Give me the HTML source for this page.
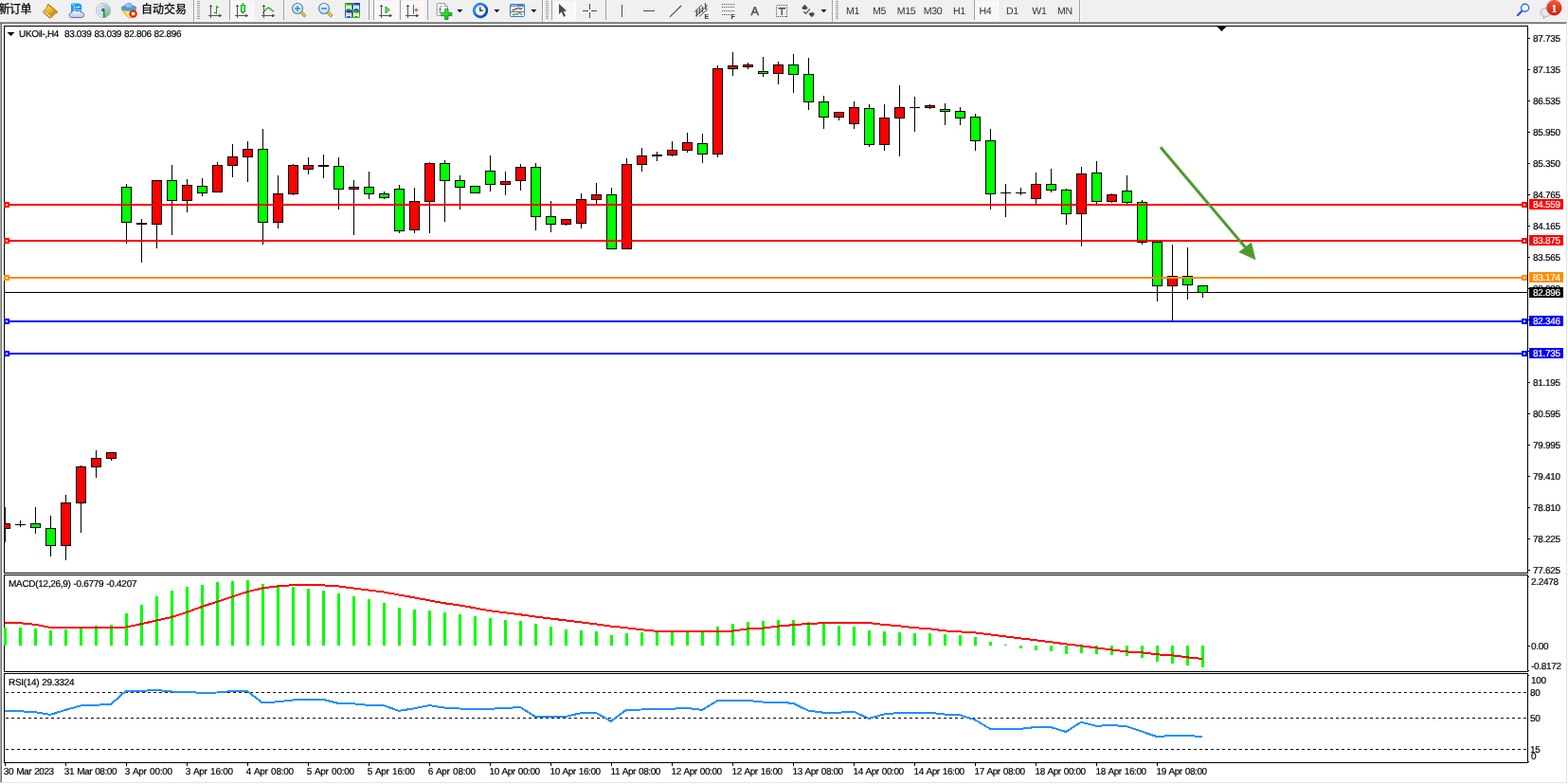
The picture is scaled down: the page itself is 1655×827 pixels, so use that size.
<!DOCTYPE html>
<html lang="zh"><head><meta charset="utf-8"><title>UKOil-,H4</title>
<style>html,body{margin:0;padding:0;background:#fff;overflow:hidden}svg{display:block}text{font-family:"Liberation Sans","Noto Sans CJK SC",sans-serif;}.ax{font-size:10px;letter-spacing:-0.3px;word-spacing:0.5px;fill:#000;stroke:#000;stroke-width:0.2px;white-space:pre;text-rendering:geometricPrecision}.tf{font-size:10.6px;letter-spacing:-0.3px;fill:#333;text-rendering:geometricPrecision}.cn{font-size:12px;fill:#000;stroke:#000;stroke-width:0.25px}</style></head><body>
<svg width="1655" height="827" viewBox="0 0 1655 827">
<rect x="0" y="0" width="1655" height="827" fill="#fff"/>
<g shape-rendering="crispEdges">
<rect x="0" y="23" width="1" height="803" fill="#a8a8a8"/>
<rect x="1" y="23" width="1" height="802" fill="#707070"/>
<rect x="1653" y="24" width="1" height="802" fill="#e3e3e3"/>
<rect x="2" y="825" width="1652" height="1" fill="#e3e3e3"/>
<rect x="4" y="27" width="1609" height="1" fill="#000"/>
<rect x="4" y="27" width="1" height="778" fill="#000"/>
<rect x="1612" y="27" width="1" height="778" fill="#000"/>
<rect x="4" y="804" width="1609" height="1" fill="#000"/>
<rect x="4" y="604" width="1609" height="1" fill="#000"/>
<rect x="4" y="605" width="1609" height="1" fill="#fff"/>
<rect x="4" y="606" width="1609" height="1" fill="#000"/>
<rect x="4" y="708" width="1609" height="1" fill="#000"/>
<rect x="4" y="709" width="1609" height="1" fill="#fff"/>
<rect x="4" y="710" width="1609" height="1" fill="#000"/>
<g clip-path="url(#cpm)">
<rect x="5" y="535" width="1" height="37" fill="#000"/>
<rect x="0" y="552" width="11" height="6" fill="#000"/>
<rect x="1" y="553" width="9" height="4" fill="#ff0000"/>
<rect x="21" y="549" width="1" height="7" fill="#000"/>
<rect x="16" y="553" width="11" height="1" fill="#000"/>
<rect x="37" y="535" width="1" height="28" fill="#000"/>
<rect x="32" y="552" width="11" height="5" fill="#000"/>
<rect x="33" y="553" width="9" height="3" fill="#00ff00"/>
<rect x="53" y="544" width="1" height="43" fill="#000"/>
<rect x="48" y="557" width="11" height="19" fill="#000"/>
<rect x="49" y="558" width="9" height="17" fill="#00ff00"/>
<rect x="69" y="522" width="1" height="69" fill="#000"/>
<rect x="64" y="530" width="11" height="46" fill="#000"/>
<rect x="65" y="531" width="9" height="44" fill="#ff0000"/>
<rect x="85" y="491" width="1" height="71" fill="#000"/>
<rect x="80" y="492" width="11" height="39" fill="#000"/>
<rect x="81" y="493" width="9" height="37" fill="#ff0000"/>
<rect x="101" y="475" width="1" height="29" fill="#000"/>
<rect x="96" y="483" width="11" height="10" fill="#000"/>
<rect x="97" y="484" width="9" height="8" fill="#ff0000"/>
<rect x="117" y="477" width="1" height="9" fill="#000"/>
<rect x="112" y="477" width="11" height="7" fill="#000"/>
<rect x="113" y="478" width="9" height="5" fill="#ff0000"/>
<rect x="133" y="194" width="1" height="63" fill="#000"/>
<rect x="128" y="197" width="11" height="38" fill="#000"/>
<rect x="129" y="198" width="9" height="36" fill="#00ff00"/>
<rect x="149" y="231" width="1" height="46" fill="#000"/>
<rect x="144" y="235" width="11" height="2" fill="#000"/>
<rect x="165" y="190" width="1" height="72" fill="#000"/>
<rect x="160" y="190" width="11" height="47" fill="#000"/>
<rect x="161" y="191" width="9" height="45" fill="#ff0000"/>
<rect x="181" y="174" width="1" height="74" fill="#000"/>
<rect x="176" y="190" width="11" height="22" fill="#000"/>
<rect x="177" y="191" width="9" height="20" fill="#00ff00"/>
<rect x="197" y="189" width="1" height="35" fill="#000"/>
<rect x="192" y="195" width="11" height="17" fill="#000"/>
<rect x="193" y="196" width="9" height="15" fill="#ff0000"/>
<rect x="213" y="188" width="1" height="19" fill="#000"/>
<rect x="208" y="196" width="11" height="8" fill="#000"/>
<rect x="209" y="197" width="9" height="6" fill="#00ff00"/>
<rect x="229" y="171" width="1" height="32" fill="#000"/>
<rect x="224" y="174" width="11" height="29" fill="#000"/>
<rect x="225" y="175" width="9" height="27" fill="#ff0000"/>
<rect x="245" y="152" width="1" height="35" fill="#000"/>
<rect x="240" y="165" width="11" height="10" fill="#000"/>
<rect x="241" y="166" width="9" height="8" fill="#ff0000"/>
<rect x="261" y="149" width="1" height="43" fill="#000"/>
<rect x="256" y="157" width="11" height="9" fill="#000"/>
<rect x="257" y="158" width="9" height="7" fill="#ff0000"/>
<rect x="277" y="136" width="1" height="122" fill="#000"/>
<rect x="272" y="157" width="11" height="78" fill="#000"/>
<rect x="273" y="158" width="9" height="76" fill="#00ff00"/>
<rect x="293" y="185" width="1" height="56" fill="#000"/>
<rect x="288" y="204" width="11" height="31" fill="#000"/>
<rect x="289" y="205" width="9" height="29" fill="#ff0000"/>
<rect x="309" y="173" width="1" height="33" fill="#000"/>
<rect x="304" y="174" width="11" height="31" fill="#000"/>
<rect x="305" y="175" width="9" height="29" fill="#ff0000"/>
<rect x="325" y="166" width="1" height="18" fill="#000"/>
<rect x="320" y="174" width="11" height="5" fill="#000"/>
<rect x="321" y="175" width="9" height="3" fill="#ff0000"/>
<rect x="341" y="163" width="1" height="25" fill="#000"/>
<rect x="336" y="174" width="11" height="2" fill="#000"/>
<rect x="357" y="166" width="1" height="55" fill="#000"/>
<rect x="352" y="175" width="11" height="25" fill="#000"/>
<rect x="353" y="176" width="9" height="23" fill="#00ff00"/>
<rect x="373" y="190" width="1" height="58" fill="#000"/>
<rect x="368" y="197" width="11" height="3" fill="#000"/>
<rect x="369" y="198" width="9" height="1" fill="#ff0000"/>
<rect x="389" y="181" width="1" height="29" fill="#000"/>
<rect x="384" y="197" width="11" height="8" fill="#000"/>
<rect x="385" y="198" width="9" height="6" fill="#00ff00"/>
<rect x="405" y="202" width="1" height="8" fill="#000"/>
<rect x="400" y="204" width="11" height="5" fill="#000"/>
<rect x="401" y="205" width="9" height="3" fill="#00ff00"/>
<rect x="421" y="195" width="1" height="51" fill="#000"/>
<rect x="416" y="199" width="11" height="45" fill="#000"/>
<rect x="417" y="200" width="9" height="43" fill="#00ff00"/>
<rect x="437" y="198" width="1" height="48" fill="#000"/>
<rect x="432" y="212" width="11" height="31" fill="#000"/>
<rect x="433" y="213" width="9" height="29" fill="#ff0000"/>
<rect x="453" y="171" width="1" height="75" fill="#000"/>
<rect x="448" y="172" width="11" height="41" fill="#000"/>
<rect x="449" y="173" width="9" height="39" fill="#ff0000"/>
<rect x="469" y="169" width="1" height="65" fill="#000"/>
<rect x="464" y="172" width="11" height="19" fill="#000"/>
<rect x="465" y="173" width="9" height="17" fill="#00ff00"/>
<rect x="485" y="185" width="1" height="36" fill="#000"/>
<rect x="480" y="190" width="11" height="8" fill="#000"/>
<rect x="481" y="191" width="9" height="6" fill="#00ff00"/>
<rect x="501" y="196" width="1" height="8" fill="#000"/>
<rect x="496" y="196" width="11" height="8" fill="#000"/>
<rect x="497" y="197" width="9" height="6" fill="#00ff00"/>
<rect x="517" y="164" width="1" height="38" fill="#000"/>
<rect x="512" y="180" width="11" height="15" fill="#000"/>
<rect x="513" y="181" width="9" height="13" fill="#00ff00"/>
<rect x="533" y="181" width="1" height="25" fill="#000"/>
<rect x="528" y="191" width="11" height="4" fill="#000"/>
<rect x="529" y="192" width="9" height="2" fill="#ff0000"/>
<rect x="549" y="173" width="1" height="28" fill="#000"/>
<rect x="544" y="176" width="11" height="15" fill="#000"/>
<rect x="545" y="177" width="9" height="13" fill="#ff0000"/>
<rect x="565" y="172" width="1" height="71" fill="#000"/>
<rect x="560" y="176" width="11" height="53" fill="#000"/>
<rect x="561" y="177" width="9" height="51" fill="#00ff00"/>
<rect x="581" y="212" width="1" height="33" fill="#000"/>
<rect x="576" y="228" width="11" height="9" fill="#000"/>
<rect x="577" y="229" width="9" height="7" fill="#00ff00"/>
<rect x="597" y="231" width="1" height="7" fill="#000"/>
<rect x="592" y="231" width="11" height="6" fill="#000"/>
<rect x="593" y="232" width="9" height="4" fill="#ff0000"/>
<rect x="613" y="204" width="1" height="37" fill="#000"/>
<rect x="608" y="210" width="11" height="26" fill="#000"/>
<rect x="609" y="211" width="9" height="24" fill="#ff0000"/>
<rect x="629" y="193" width="1" height="22" fill="#000"/>
<rect x="624" y="205" width="11" height="6" fill="#000"/>
<rect x="625" y="206" width="9" height="4" fill="#ff0000"/>
<rect x="645" y="198" width="1" height="65" fill="#000"/>
<rect x="640" y="205" width="11" height="58" fill="#000"/>
<rect x="641" y="206" width="9" height="56" fill="#00ff00"/>
<rect x="661" y="167" width="1" height="96" fill="#000"/>
<rect x="656" y="173" width="11" height="90" fill="#000"/>
<rect x="657" y="174" width="9" height="88" fill="#ff0000"/>
<rect x="677" y="156" width="1" height="25" fill="#000"/>
<rect x="672" y="164" width="11" height="10" fill="#000"/>
<rect x="673" y="165" width="9" height="8" fill="#ff0000"/>
<rect x="693" y="160" width="1" height="10" fill="#000"/>
<rect x="688" y="163" width="11" height="2" fill="#000"/>
<rect x="709" y="149" width="1" height="16" fill="#000"/>
<rect x="704" y="158" width="11" height="6" fill="#000"/>
<rect x="705" y="159" width="9" height="4" fill="#ff0000"/>
<rect x="725" y="140" width="1" height="21" fill="#000"/>
<rect x="720" y="150" width="11" height="9" fill="#000"/>
<rect x="721" y="151" width="9" height="7" fill="#ff0000"/>
<rect x="741" y="141" width="1" height="31" fill="#000"/>
<rect x="736" y="151" width="11" height="12" fill="#000"/>
<rect x="737" y="152" width="9" height="10" fill="#00ff00"/>
<rect x="757" y="69" width="1" height="97" fill="#000"/>
<rect x="752" y="72" width="11" height="91" fill="#000"/>
<rect x="753" y="73" width="9" height="89" fill="#ff0000"/>
<rect x="773" y="55" width="1" height="25" fill="#000"/>
<rect x="768" y="69" width="11" height="4" fill="#000"/>
<rect x="769" y="70" width="9" height="2" fill="#ff0000"/>
<rect x="789" y="66" width="1" height="7" fill="#000"/>
<rect x="784" y="68" width="11" height="3" fill="#000"/>
<rect x="785" y="69" width="9" height="1" fill="#ff0000"/>
<rect x="805" y="60" width="1" height="21" fill="#000"/>
<rect x="800" y="75" width="11" height="3" fill="#000"/>
<rect x="801" y="76" width="9" height="1" fill="#00ff00"/>
<rect x="821" y="65" width="1" height="24" fill="#000"/>
<rect x="816" y="68" width="11" height="10" fill="#000"/>
<rect x="817" y="69" width="9" height="8" fill="#ff0000"/>
<rect x="837" y="57" width="1" height="41" fill="#000"/>
<rect x="832" y="68" width="11" height="11" fill="#000"/>
<rect x="833" y="69" width="9" height="9" fill="#00ff00"/>
<rect x="853" y="61" width="1" height="55" fill="#000"/>
<rect x="848" y="78" width="11" height="30" fill="#000"/>
<rect x="849" y="79" width="9" height="28" fill="#00ff00"/>
<rect x="869" y="101" width="1" height="35" fill="#000"/>
<rect x="864" y="107" width="11" height="17" fill="#000"/>
<rect x="865" y="108" width="9" height="15" fill="#00ff00"/>
<rect x="885" y="118" width="1" height="9" fill="#000"/>
<rect x="880" y="118" width="11" height="6" fill="#000"/>
<rect x="881" y="119" width="9" height="4" fill="#ff0000"/>
<rect x="901" y="107" width="1" height="29" fill="#000"/>
<rect x="896" y="113" width="11" height="18" fill="#000"/>
<rect x="897" y="114" width="9" height="16" fill="#ff0000"/>
<rect x="917" y="110" width="1" height="45" fill="#000"/>
<rect x="912" y="114" width="11" height="39" fill="#000"/>
<rect x="913" y="115" width="9" height="37" fill="#00ff00"/>
<rect x="933" y="110" width="1" height="49" fill="#000"/>
<rect x="928" y="124" width="11" height="29" fill="#000"/>
<rect x="929" y="125" width="9" height="27" fill="#ff0000"/>
<rect x="949" y="90" width="1" height="75" fill="#000"/>
<rect x="944" y="113" width="11" height="12" fill="#000"/>
<rect x="945" y="114" width="9" height="10" fill="#ff0000"/>
<rect x="965" y="102" width="1" height="37" fill="#000"/>
<rect x="960" y="113" width="11" height="1" fill="#000"/>
<rect x="981" y="110" width="1" height="5" fill="#000"/>
<rect x="976" y="111" width="11" height="3" fill="#000"/>
<rect x="977" y="112" width="9" height="1" fill="#ff0000"/>
<rect x="997" y="109" width="1" height="23" fill="#000"/>
<rect x="992" y="115" width="11" height="3" fill="#000"/>
<rect x="993" y="116" width="9" height="1" fill="#00ff00"/>
<rect x="1013" y="113" width="1" height="19" fill="#000"/>
<rect x="1008" y="117" width="11" height="8" fill="#000"/>
<rect x="1009" y="118" width="9" height="6" fill="#00ff00"/>
<rect x="1029" y="120" width="1" height="39" fill="#000"/>
<rect x="1024" y="123" width="11" height="26" fill="#000"/>
<rect x="1025" y="124" width="9" height="24" fill="#00ff00"/>
<rect x="1045" y="136" width="1" height="85" fill="#000"/>
<rect x="1040" y="148" width="11" height="57" fill="#000"/>
<rect x="1041" y="149" width="9" height="55" fill="#00ff00"/>
<rect x="1061" y="194" width="1" height="35" fill="#000"/>
<rect x="1056" y="203" width="11" height="1" fill="#000"/>
<rect x="1077" y="198" width="1" height="8" fill="#000"/>
<rect x="1072" y="203" width="11" height="1" fill="#000"/>
<rect x="1093" y="182" width="1" height="33" fill="#000"/>
<rect x="1088" y="194" width="11" height="16" fill="#000"/>
<rect x="1089" y="195" width="9" height="14" fill="#ff0000"/>
<rect x="1109" y="178" width="1" height="25" fill="#000"/>
<rect x="1104" y="194" width="11" height="7" fill="#000"/>
<rect x="1105" y="195" width="9" height="5" fill="#00ff00"/>
<rect x="1125" y="199" width="1" height="38" fill="#000"/>
<rect x="1120" y="200" width="11" height="26" fill="#000"/>
<rect x="1121" y="201" width="9" height="24" fill="#00ff00"/>
<rect x="1141" y="176" width="1" height="84" fill="#000"/>
<rect x="1136" y="183" width="11" height="43" fill="#000"/>
<rect x="1137" y="184" width="9" height="41" fill="#ff0000"/>
<rect x="1157" y="170" width="1" height="45" fill="#000"/>
<rect x="1152" y="182" width="11" height="31" fill="#000"/>
<rect x="1153" y="183" width="9" height="29" fill="#00ff00"/>
<rect x="1173" y="204" width="1" height="10" fill="#000"/>
<rect x="1168" y="205" width="11" height="8" fill="#000"/>
<rect x="1169" y="206" width="9" height="6" fill="#ff0000"/>
<rect x="1189" y="185" width="1" height="30" fill="#000"/>
<rect x="1184" y="201" width="11" height="13" fill="#000"/>
<rect x="1185" y="202" width="9" height="11" fill="#00ff00"/>
<rect x="1205" y="211" width="1" height="47" fill="#000"/>
<rect x="1200" y="213" width="11" height="43" fill="#000"/>
<rect x="1201" y="214" width="9" height="41" fill="#00ff00"/>
<rect x="1221" y="255" width="1" height="63" fill="#000"/>
<rect x="1216" y="255" width="11" height="47" fill="#000"/>
<rect x="1217" y="256" width="9" height="45" fill="#00ff00"/>
<rect x="1237" y="258" width="1" height="81" fill="#000"/>
<rect x="1232" y="291" width="11" height="11" fill="#000"/>
<rect x="1233" y="292" width="9" height="9" fill="#ff0000"/>
<rect x="1253" y="261" width="1" height="55" fill="#000"/>
<rect x="1248" y="291" width="11" height="10" fill="#000"/>
<rect x="1249" y="292" width="9" height="8" fill="#00ff00"/>
<rect x="1269" y="301" width="1" height="13" fill="#000"/>
<rect x="1264" y="301" width="11" height="8" fill="#000"/>
<rect x="1265" y="302" width="9" height="6" fill="#00ff00"/>
</g>
<rect x="4" y="662" width="3" height="19" fill="#00ff00"/>
<rect x="20" y="662" width="3" height="19" fill="#00ff00"/>
<rect x="36" y="663" width="3" height="18" fill="#00ff00"/>
<rect x="52" y="665" width="3" height="16" fill="#00ff00"/>
<rect x="68" y="664" width="3" height="17" fill="#00ff00"/>
<rect x="84" y="662" width="3" height="19" fill="#00ff00"/>
<rect x="100" y="660" width="3" height="21" fill="#00ff00"/>
<rect x="116" y="659" width="3" height="22" fill="#00ff00"/>
<rect x="132" y="647" width="3" height="34" fill="#00ff00"/>
<rect x="148" y="638" width="3" height="43" fill="#00ff00"/>
<rect x="164" y="629" width="3" height="52" fill="#00ff00"/>
<rect x="180" y="623" width="3" height="58" fill="#00ff00"/>
<rect x="196" y="619" width="3" height="62" fill="#00ff00"/>
<rect x="212" y="617" width="3" height="64" fill="#00ff00"/>
<rect x="228" y="614" width="3" height="67" fill="#00ff00"/>
<rect x="244" y="613" width="3" height="68" fill="#00ff00"/>
<rect x="260" y="612" width="3" height="69" fill="#00ff00"/>
<rect x="276" y="616" width="3" height="65" fill="#00ff00"/>
<rect x="292" y="619" width="3" height="62" fill="#00ff00"/>
<rect x="308" y="619" width="3" height="62" fill="#00ff00"/>
<rect x="324" y="621" width="3" height="60" fill="#00ff00"/>
<rect x="340" y="623" width="3" height="58" fill="#00ff00"/>
<rect x="356" y="626" width="3" height="55" fill="#00ff00"/>
<rect x="372" y="629" width="3" height="52" fill="#00ff00"/>
<rect x="388" y="632" width="3" height="49" fill="#00ff00"/>
<rect x="404" y="636" width="3" height="45" fill="#00ff00"/>
<rect x="420" y="641" width="3" height="40" fill="#00ff00"/>
<rect x="436" y="643" width="3" height="38" fill="#00ff00"/>
<rect x="452" y="644" width="3" height="37" fill="#00ff00"/>
<rect x="468" y="646" width="3" height="35" fill="#00ff00"/>
<rect x="484" y="648" width="3" height="33" fill="#00ff00"/>
<rect x="500" y="650" width="3" height="31" fill="#00ff00"/>
<rect x="516" y="652" width="3" height="29" fill="#00ff00"/>
<rect x="532" y="654" width="3" height="27" fill="#00ff00"/>
<rect x="548" y="655" width="3" height="26" fill="#00ff00"/>
<rect x="564" y="658" width="3" height="23" fill="#00ff00"/>
<rect x="580" y="661" width="3" height="20" fill="#00ff00"/>
<rect x="596" y="664" width="3" height="17" fill="#00ff00"/>
<rect x="612" y="665" width="3" height="16" fill="#00ff00"/>
<rect x="628" y="666" width="3" height="15" fill="#00ff00"/>
<rect x="644" y="670" width="3" height="11" fill="#00ff00"/>
<rect x="660" y="668" width="3" height="13" fill="#00ff00"/>
<rect x="676" y="667" width="3" height="14" fill="#00ff00"/>
<rect x="692" y="666" width="3" height="15" fill="#00ff00"/>
<rect x="708" y="666" width="3" height="15" fill="#00ff00"/>
<rect x="724" y="666" width="3" height="15" fill="#00ff00"/>
<rect x="740" y="666" width="3" height="15" fill="#00ff00"/>
<rect x="756" y="661" width="3" height="20" fill="#00ff00"/>
<rect x="772" y="658" width="3" height="23" fill="#00ff00"/>
<rect x="788" y="656" width="3" height="25" fill="#00ff00"/>
<rect x="804" y="655" width="3" height="26" fill="#00ff00"/>
<rect x="820" y="654" width="3" height="27" fill="#00ff00"/>
<rect x="836" y="654" width="3" height="27" fill="#00ff00"/>
<rect x="852" y="656" width="3" height="25" fill="#00ff00"/>
<rect x="868" y="658" width="3" height="23" fill="#00ff00"/>
<rect x="884" y="660" width="3" height="21" fill="#00ff00"/>
<rect x="900" y="661" width="3" height="20" fill="#00ff00"/>
<rect x="916" y="665" width="3" height="16" fill="#00ff00"/>
<rect x="932" y="666" width="3" height="15" fill="#00ff00"/>
<rect x="948" y="667" width="3" height="14" fill="#00ff00"/>
<rect x="964" y="668" width="3" height="13" fill="#00ff00"/>
<rect x="980" y="668" width="3" height="13" fill="#00ff00"/>
<rect x="996" y="669" width="3" height="12" fill="#00ff00"/>
<rect x="1012" y="670" width="3" height="11" fill="#00ff00"/>
<rect x="1028" y="672" width="3" height="9" fill="#00ff00"/>
<rect x="1044" y="677" width="3" height="4" fill="#00ff00"/>
<rect x="1060" y="680" width="3" height="1" fill="#00ff00"/>
<rect x="1076" y="681" width="3" height="3" fill="#00ff00"/>
<rect x="1092" y="681" width="3" height="5" fill="#00ff00"/>
<rect x="1108" y="681" width="3" height="6" fill="#00ff00"/>
<rect x="1124" y="681" width="3" height="9" fill="#00ff00"/>
<rect x="1140" y="681" width="3" height="8" fill="#00ff00"/>
<rect x="1156" y="681" width="3" height="9" fill="#00ff00"/>
<rect x="1172" y="681" width="3" height="10" fill="#00ff00"/>
<rect x="1188" y="681" width="3" height="11" fill="#00ff00"/>
<rect x="1204" y="681" width="3" height="13" fill="#00ff00"/>
<rect x="1220" y="681" width="3" height="17" fill="#00ff00"/>
<rect x="1236" y="681" width="3" height="19" fill="#00ff00"/>
<rect x="1252" y="681" width="3" height="21" fill="#00ff00"/>
<rect x="1268" y="681" width="3" height="23" fill="#00ff00"/>
<path d="M6 730.5H1612" stroke="#000" stroke-width="1" stroke-dasharray="3 3" fill="none"/>
<path d="M6 757.5H1612" stroke="#000" stroke-width="1" stroke-dasharray="3 3" fill="none"/>
<path d="M6 790.5H1612" stroke="#000" stroke-width="1" stroke-dasharray="3 3" fill="none"/>
</g>
<defs><clipPath id="cpm"><rect x="5" y="28" width="1607" height="576"/></clipPath><clipPath id="cpa"><rect x="5" y="607" width="1607" height="101"/></clipPath></defs>
<polyline points="5,657.2 21,657.2 37,658.8 53,661.8 69,661.8 85,661.8 101,661.8 117,661.8 133,661.5 149,658.2 165,654.6 181,651.0 197,645.9 213,639.9 229,634.9 245,629.5 261,624.3 277,620.4 293,618.4 309,617.2 325,617.2 341,617.4 357,618.4 373,620.5 389,622.5 405,624.5 421,627.5 437,630.3 453,633.3 469,636.3 485,638.5 501,641.3 517,644.3 533,646.3 549,648.3 565,650.5 581,652.5 597,654.4 613,656.4 629,658.4 645,660.6 661,662.2 677,664.2 693,665.8 709,665.8 725,665.8 741,665.8 757,665.8 773,665.6 789,663.4 805,662.6 821,660.6 837,659.2 853,658.0 869,657.2 885,656.8 901,656.8 917,657.0 933,659.0 949,660.2 965,662.2 981,663.2 997,665.4 1013,666.4 1029,667.4 1045,669.4 1061,671.4 1077,673.4 1093,675.2 1109,677.2 1125,679.4 1141,681.2 1157,683.4 1173,685.4 1189,687.4 1205,688.3 1221,690.3 1237,691.3 1253,693.3 1269,694.9" fill="none" stroke="#ff0000" stroke-width="2" stroke-linejoin="round" clip-path="url(#cpa)" shape-rendering="crispEdges"/>
<polyline points="5,750.1 21,750.3 37,751.1 53,753.9 69,748.9 85,744.5 101,743.7 117,742.9 133,728.9 149,728.9 165,727.9 181,729.5 197,729.9 213,730.9 229,730.5 245,729.1 261,728.9 277,741.5 293,740.3 309,738.5 325,737.9 341,737.9 357,741.9 373,742.3 389,743.9 405,744.1 421,749.9 437,747.3 453,744.1 469,746.5 485,747.5 501,747.9 517,747.7 533,747.1 549,745.9 565,755.9 581,756.1 597,755.9 613,752.3 629,751.9 645,760.8 661,748.9 677,748.5 693,747.9 709,747.7 725,746.9 741,748.9 757,739.3 773,738.9 789,738.9 805,740.5 821,740.5 837,741.9 853,749.5 869,751.7 885,751.7 901,750.7 917,757.9 933,753.5 949,751.9 965,751.7 981,751.7 997,753.5 1013,754.3 1029,759.2 1045,768.8 1061,768.8 1077,768.8 1093,767.0 1109,767.0 1125,772.0 1141,761.8 1157,765.8 1173,765.0 1189,766.2 1205,771.6 1221,777.0 1237,776.0 1253,776.0 1269,777.0" fill="none" stroke="#1e90ff" stroke-width="2" stroke-linejoin="round" shape-rendering="crispEdges"/>
<g shape-rendering="crispEdges">
<rect x="5" y="308" width="1607" height="1" fill="#000"/>
<rect x="1614" y="303" width="36" height="11" fill="#000"/>
<rect x="5" y="215" width="1607" height="2" fill="#ff0000"/>
<rect x="4" y="213" width="6" height="6" fill="#ff0000"/>
<rect x="6" y="215" width="2" height="2" fill="#fff"/>
<rect x="1606" y="213" width="6" height="6" fill="#ff0000"/>
<rect x="1608" y="215" width="2" height="2" fill="#fff"/>
<rect x="1614" y="210" width="36" height="11" fill="#ff0000"/>
<rect x="5" y="253" width="1607" height="2" fill="#ff0000"/>
<rect x="4" y="251" width="6" height="6" fill="#ff0000"/>
<rect x="6" y="253" width="2" height="2" fill="#fff"/>
<rect x="1606" y="251" width="6" height="6" fill="#ff0000"/>
<rect x="1608" y="253" width="2" height="2" fill="#fff"/>
<rect x="1614" y="248" width="36" height="11" fill="#ff0000"/>
<rect x="5" y="292" width="1607" height="2" fill="#ff8c00"/>
<rect x="4" y="290" width="6" height="6" fill="#ff8c00"/>
<rect x="6" y="292" width="2" height="2" fill="#fff"/>
<rect x="1606" y="290" width="6" height="6" fill="#ff8c00"/>
<rect x="1608" y="292" width="2" height="2" fill="#fff"/>
<rect x="1614" y="287" width="36" height="11" fill="#ff8c00"/>
<rect x="5" y="338" width="1607" height="2" fill="#0000ff"/>
<rect x="4" y="336" width="6" height="6" fill="#0000ff"/>
<rect x="6" y="338" width="2" height="2" fill="#fff"/>
<rect x="1606" y="336" width="6" height="6" fill="#0000ff"/>
<rect x="1608" y="338" width="2" height="2" fill="#fff"/>
<rect x="1614" y="333" width="36" height="11" fill="#0000ff"/>
<rect x="5" y="372" width="1607" height="2" fill="#0000ff"/>
<rect x="4" y="370" width="6" height="6" fill="#0000ff"/>
<rect x="6" y="372" width="2" height="2" fill="#fff"/>
<rect x="1606" y="370" width="6" height="6" fill="#0000ff"/>
<rect x="1608" y="372" width="2" height="2" fill="#fff"/>
<rect x="1614" y="367" width="36" height="11" fill="#0000ff"/>
<rect x="1612" y="27" width="1" height="578" fill="#000"/>
<rect x="1612" y="606" width="1" height="103" fill="#000"/>
<rect x="1612" y="710" width="1" height="95" fill="#000"/>
<rect x="1613" y="40" width="2" height="1" fill="#000"/>
<rect x="1613" y="73" width="2" height="1" fill="#000"/>
<rect x="1613" y="106" width="2" height="1" fill="#000"/>
<rect x="1613" y="139" width="2" height="1" fill="#000"/>
<rect x="1613" y="172" width="2" height="1" fill="#000"/>
<rect x="1613" y="205" width="2" height="1" fill="#000"/>
<rect x="1613" y="238" width="2" height="1" fill="#000"/>
<rect x="1613" y="271" width="2" height="1" fill="#000"/>
<rect x="1613" y="304" width="2" height="1" fill="#000"/>
<rect x="1613" y="403" width="2" height="1" fill="#000"/>
<rect x="1613" y="436" width="2" height="1" fill="#000"/>
<rect x="1613" y="469" width="2" height="1" fill="#000"/>
<rect x="1613" y="502" width="2" height="1" fill="#000"/>
<rect x="1613" y="535" width="2" height="1" fill="#000"/>
<rect x="1613" y="568" width="2" height="1" fill="#000"/>
<rect x="1613" y="601" width="2" height="1" fill="#000"/>
<rect x="1613" y="337" width="2" height="1" fill="#000"/>
<rect x="1613" y="370" width="2" height="1" fill="#000"/>
<rect x="1613" y="681" width="2" height="1" fill="#000"/>
<rect x="1613" y="608" width="1" height="1" fill="#000"/>
<rect x="1613" y="707" width="1" height="1" fill="#000"/>
<rect x="1613" y="712" width="1" height="1" fill="#000"/>
<rect x="1613" y="803" width="1" height="1" fill="#000"/>
<rect x="5" y="805" width="1" height="3" fill="#000"/>
<rect x="69" y="805" width="1" height="3" fill="#000"/>
<rect x="133" y="805" width="1" height="3" fill="#000"/>
<rect x="197" y="805" width="1" height="3" fill="#000"/>
<rect x="261" y="805" width="1" height="3" fill="#000"/>
<rect x="325" y="805" width="1" height="3" fill="#000"/>
<rect x="389" y="805" width="1" height="3" fill="#000"/>
<rect x="453" y="805" width="1" height="3" fill="#000"/>
<rect x="517" y="805" width="1" height="3" fill="#000"/>
<rect x="581" y="805" width="1" height="3" fill="#000"/>
<rect x="645" y="805" width="1" height="3" fill="#000"/>
<rect x="709" y="805" width="1" height="3" fill="#000"/>
<rect x="773" y="805" width="1" height="3" fill="#000"/>
<rect x="837" y="805" width="1" height="3" fill="#000"/>
<rect x="901" y="805" width="1" height="3" fill="#000"/>
<rect x="965" y="805" width="1" height="3" fill="#000"/>
<rect x="1029" y="805" width="1" height="3" fill="#000"/>
<rect x="1093" y="805" width="1" height="3" fill="#000"/>
<rect x="1157" y="805" width="1" height="3" fill="#000"/>
<rect x="1221" y="805" width="1" height="3" fill="#000"/>
<rect x="1285" y="28" width="9" height="1" fill="#000"/>
<rect x="1286" y="29" width="7" height="1" fill="#000"/>
<rect x="1287" y="30" width="5" height="1" fill="#000"/>
<rect x="1288" y="31" width="3" height="1" fill="#000"/>
<rect x="1289" y="32" width="1" height="1" fill="#000"/>
</g>
<g fill="#4f9a2f" stroke="none"><path d="M1224.9 155.2 L1314.5 261" stroke="#4f9a2f" stroke-width="3" fill="none"/><polygon points="1325.5,274.2 1307.3,266 1320.9,255.4"/></g>
<text class="ax" x="1618" y="44">87.735</text>
<text class="ax" x="1618" y="77">87.135</text>
<text class="ax" x="1618" y="110">86.535</text>
<text class="ax" x="1618" y="143">85.950</text>
<text class="ax" x="1618" y="176">85.350</text>
<text class="ax" x="1618" y="209">84.765</text>
<text class="ax" x="1618" y="242">84.165</text>
<text class="ax" x="1618" y="275">83.565</text>
<text class="ax" x="1618" y="308" clip-path="url(#cph)">82.980</text>
<text class="ax" x="1618" y="407">81.195</text>
<text class="ax" x="1618" y="440">80.595</text>
<text class="ax" x="1618" y="473">79.995</text>
<text class="ax" x="1618" y="506">79.410</text>
<text class="ax" x="1618" y="539">78.810</text>
<text class="ax" x="1618" y="572">78.225</text>
<text class="ax" x="1618" y="605">77.625</text>
<defs><clipPath id="cph"><rect x="1614" y="296" width="40" height="7"/></clipPath></defs>
<text class="ax" x="1618" y="219" style="fill:#fff;stroke:#fff">84.559</text>
<text class="ax" x="1618" y="257" style="fill:#fff;stroke:#fff">83.875</text>
<text class="ax" x="1618" y="296" style="fill:#fff;stroke:#fff">83.174</text>
<text class="ax" x="1618" y="312" style="fill:#fff;stroke:#fff">82.896</text>
<text class="ax" x="1618" y="342" style="fill:#fff;stroke:#fff">82.346</text>
<text class="ax" x="1618" y="376" style="fill:#fff;stroke:#fff">81.735</text>
<text class="ax" x="1616" y="617">2.2478</text>
<text class="ax" x="1616" y="685">0.00</text>
<text class="ax" x="1616" y="706">-0.8172</text>
<text class="ax" x="1616" y="721">100</text>
<text class="ax" x="1615" y="734">80</text>
<text class="ax" x="1615" y="761">50</text>
<text class="ax" x="1615" y="794">15</text>
<text class="ax" x="1616" y="801">0</text>
<text class="ax" x="3.8" y="817" style="letter-spacing:-0.42px;word-spacing:0.7px">30 Mar 2023</text>
<text class="ax" x="67.8" y="817" style="letter-spacing:-0.42px;word-spacing:0.7px">31 Mar 08:00</text>
<text class="ax" x="131.8" y="817" style="letter-spacing:-0.3px;word-spacing:1.0px">3 Apr 00:00</text>
<text class="ax" x="195.8" y="817" style="letter-spacing:-0.3px;word-spacing:1.0px">3 Apr 16:00</text>
<text class="ax" x="259.8" y="817" style="letter-spacing:-0.3px;word-spacing:1.0px">4 Apr 08:00</text>
<text class="ax" x="323.8" y="817" style="letter-spacing:-0.3px;word-spacing:1.0px">5 Apr 00:00</text>
<text class="ax" x="387.8" y="817" style="letter-spacing:-0.3px;word-spacing:1.0px">5 Apr 16:00</text>
<text class="ax" x="451.8" y="817" style="letter-spacing:-0.3px;word-spacing:1.0px">6 Apr 08:00</text>
<text class="ax" x="516.6" y="817" style="letter-spacing:-0.42px;word-spacing:0.7px">10 Apr 00:00</text>
<text class="ax" x="580.6" y="817" style="letter-spacing:-0.42px;word-spacing:0.7px">10 Apr 16:00</text>
<text class="ax" x="644.6" y="817" style="letter-spacing:-0.42px;word-spacing:0.7px">11 Apr 08:00</text>
<text class="ax" x="708.6" y="817" style="letter-spacing:-0.42px;word-spacing:0.7px">12 Apr 00:00</text>
<text class="ax" x="772.6" y="817" style="letter-spacing:-0.42px;word-spacing:0.7px">12 Apr 16:00</text>
<text class="ax" x="836.6" y="817" style="letter-spacing:-0.42px;word-spacing:0.7px">13 Apr 08:00</text>
<text class="ax" x="900.6" y="817" style="letter-spacing:-0.42px;word-spacing:0.7px">14 Apr 00:00</text>
<text class="ax" x="964.6" y="817" style="letter-spacing:-0.42px;word-spacing:0.7px">14 Apr 16:00</text>
<text class="ax" x="1028.6" y="817" style="letter-spacing:-0.42px;word-spacing:0.7px">17 Apr 08:00</text>
<text class="ax" x="1092.6" y="817" style="letter-spacing:-0.42px;word-spacing:0.7px">18 Apr 00:00</text>
<text class="ax" x="1156.6" y="817" style="letter-spacing:-0.42px;word-spacing:0.7px">18 Apr 16:00</text>
<text class="ax" x="1220.6" y="817" style="letter-spacing:-0.42px;word-spacing:0.7px">19 Apr 08:00</text>
<g shape-rendering="crispEdges">
<rect x="8" y="34" width="7" height="1" fill="#000"/>
<rect x="9" y="35" width="5" height="1" fill="#000"/>
<rect x="10" y="36" width="3" height="1" fill="#000"/>
<rect x="11" y="37" width="1" height="1" fill="#000"/>
</g>
<text class="ax" x="20" y="39" style="letter-spacing:-0.33px">UKOil-,H4  83.039 83.039 82.806 82.896</text>
<text class="ax" x="9" y="619">MACD(12,26,9) -0.6779 -0.4207</text>
<text class="ax" x="9" y="723">RSI(14) 29.3324</text>
<g id="toolbar">
<g shape-rendering="crispEdges">
<rect x="0" y="0" width="1655" height="23" fill="#f0f0f0"/>
<rect x="0" y="22" width="1654" height="1" fill="#f6f6f6"/>
<rect x="0" y="23" width="1654" height="1" fill="#a0a0a0"/>
<rect x="0" y="24" width="1653" height="1" fill="#696969"/>
<rect x="1654" y="23" width="1" height="804" fill="#fff"/>
<defs><pattern id="chk" width="2" height="2" patternUnits="userSpaceOnUse"><rect width="2" height="2" fill="#fff"/><rect width="1" height="1" fill="#f0f0f0"/><rect x="1" y="1" width="1" height="1" fill="#f0f0f0"/></pattern></defs>
<rect x="204" y="0" width="1" height="23" fill="#a0a0a0"/><rect x="205" y="0" width="1" height="23" fill="#fff"/>
<rect x="208" y="1" width="3" height="1" fill="#a0a0a0"/>
<rect x="208" y="3" width="3" height="1" fill="#a0a0a0"/>
<rect x="208" y="5" width="3" height="1" fill="#a0a0a0"/>
<rect x="208" y="7" width="3" height="1" fill="#a0a0a0"/>
<rect x="208" y="9" width="3" height="1" fill="#a0a0a0"/>
<rect x="208" y="11" width="3" height="1" fill="#a0a0a0"/>
<rect x="208" y="13" width="3" height="1" fill="#a0a0a0"/>
<rect x="208" y="15" width="3" height="1" fill="#a0a0a0"/>
<rect x="208" y="17" width="3" height="1" fill="#a0a0a0"/>
<rect x="208" y="19" width="3" height="1" fill="#a0a0a0"/>
<rect x="242" y="0" width="1" height="21" fill="#a0a0a0"/>
<rect x="243" y="1" width="24" height="20" fill="url(#chk)"/>
<rect x="243" y="21" width="25" height="1" fill="#fff"/><rect x="267" y="0" width="1" height="22" fill="#fff"/>
<rect x="299" y="0" width="1" height="21" fill="#a0a0a0"/>
<rect x="389" y="0" width="1" height="21" fill="#a0a0a0"/>
<rect x="394" y="0" width="1" height="21" fill="#a0a0a0"/>
<rect x="395" y="1" width="24" height="20" fill="url(#chk)"/>
<rect x="395" y="21" width="25" height="1" fill="#fff"/><rect x="419" y="0" width="1" height="22" fill="#fff"/>
<rect x="422" y="0" width="1" height="21" fill="#a0a0a0"/>
<rect x="423" y="1" width="24" height="20" fill="url(#chk)"/>
<rect x="423" y="21" width="25" height="1" fill="#fff"/><rect x="447" y="0" width="1" height="22" fill="#fff"/>
<rect x="451" y="0" width="1" height="21" fill="#a0a0a0"/>
<rect x="572" y="0" width="1" height="23" fill="#a0a0a0"/><rect x="573" y="0" width="1" height="23" fill="#fff"/>
<rect x="576" y="1" width="3" height="1" fill="#a0a0a0"/>
<rect x="576" y="3" width="3" height="1" fill="#a0a0a0"/>
<rect x="576" y="5" width="3" height="1" fill="#a0a0a0"/>
<rect x="576" y="7" width="3" height="1" fill="#a0a0a0"/>
<rect x="576" y="9" width="3" height="1" fill="#a0a0a0"/>
<rect x="576" y="11" width="3" height="1" fill="#a0a0a0"/>
<rect x="576" y="13" width="3" height="1" fill="#a0a0a0"/>
<rect x="576" y="15" width="3" height="1" fill="#a0a0a0"/>
<rect x="576" y="17" width="3" height="1" fill="#a0a0a0"/>
<rect x="576" y="19" width="3" height="1" fill="#a0a0a0"/>
<rect x="582" y="0" width="1" height="21" fill="#a0a0a0"/>
<rect x="583" y="1" width="24" height="20" fill="url(#chk)"/>
<rect x="583" y="21" width="25" height="1" fill="#fff"/><rect x="607" y="0" width="1" height="22" fill="#fff"/>
<rect x="639" y="0" width="1" height="21" fill="#a0a0a0"/>
<rect x="878" y="0" width="1" height="23" fill="#a0a0a0"/><rect x="879" y="0" width="1" height="23" fill="#fff"/>
<rect x="882" y="1" width="3" height="1" fill="#a0a0a0"/>
<rect x="882" y="3" width="3" height="1" fill="#a0a0a0"/>
<rect x="882" y="5" width="3" height="1" fill="#a0a0a0"/>
<rect x="882" y="7" width="3" height="1" fill="#a0a0a0"/>
<rect x="882" y="9" width="3" height="1" fill="#a0a0a0"/>
<rect x="882" y="11" width="3" height="1" fill="#a0a0a0"/>
<rect x="882" y="13" width="3" height="1" fill="#a0a0a0"/>
<rect x="882" y="15" width="3" height="1" fill="#a0a0a0"/>
<rect x="882" y="17" width="3" height="1" fill="#a0a0a0"/>
<rect x="882" y="19" width="3" height="1" fill="#a0a0a0"/>
<rect x="1028" y="0" width="1" height="21" fill="#a0a0a0"/>
<rect x="1029" y="1" width="24" height="20" fill="url(#chk)"/>
<rect x="1029" y="21" width="25" height="1" fill="#fff"/><rect x="1053" y="0" width="1" height="22" fill="#fff"/>
<rect x="1139" y="0" width="1" height="23" fill="#a0a0a0"/><rect x="1140" y="0" width="1" height="23" fill="#fff"/>
</g>
<text class="cn" x="-1.6" y="14.3" style="letter-spacing:-0.4px">新订单</text>
<text class="cn" x="148.9" y="14.3">自动交易</text>
<text class="tf" x="900" y="15.3" text-anchor="middle">M1</text>
<text class="tf" x="928" y="15.3" text-anchor="middle">M5</text>
<text class="tf" x="956.5" y="15.3" text-anchor="middle">M15</text>
<text class="tf" x="984.5" y="15.3" text-anchor="middle">M30</text>
<text class="tf" x="1012.5" y="15.3" text-anchor="middle">H1</text>
<text class="tf" x="1040" y="15.3" text-anchor="middle">H4</text>
<text class="tf" x="1068.5" y="15.3" text-anchor="middle">D1</text>
<text class="tf" x="1097" y="15.3" text-anchor="middle">W1</text>
<text class="tf" x="1124" y="15.3" text-anchor="middle">MN</text>
<defs><linearGradient id="gold" x1="0" y1="0" x2="1" y2="1"><stop offset="0" stop-color="#fbe36a"/><stop offset="0.5" stop-color="#e9b81c"/><stop offset="1" stop-color="#b67a12"/></linearGradient><linearGradient id="redg" x1="0" y1="0" x2="0" y2="1"><stop offset="0" stop-color="#ec5a3a"/><stop offset="1" stop-color="#d81a08"/></linearGradient><linearGradient id="grn" x1="0" y1="0" x2="1" y2="0"><stop offset="0" stop-color="#20b030"/><stop offset="0.5" stop-color="#70f080"/><stop offset="1" stop-color="#20b030"/></linearGradient></defs>
<path d="M50.2 4 L51.4 4.3 L61 12.2 L60.6 13.4 L53.4 19.2 L52.2 19.2 L45 13 L45.2 12 L48.6 8.8 Z" fill="#b5720f"/>
<path d="M50.7 5.3 L59.6 12.2 L54.6 16.2 L47.2 10.8 L49.5 8.7 Z" fill="url(#gold)"/>
<path d="M46 12.6 L47.2 11.5 L54.3 16.9 L53 18.2 Z" fill="#f6dc84"/>
<path d="M55 17 L59.8 13 L60.2 13.5 L55.3 17.7 Z" fill="#e6dca6"/>
<path d="M75 3.6 h8.5 l2.7 1.6 v8 h-11.2Z" fill="#1e9cf0"/>
<path d="M75.3 3.8 l3.2 2 v7 h-3.2Z" fill="#12a8ff"/><path d="M75.4 3.8 l3.1 2 v7" fill="none" stroke="#e8f6ff" stroke-width="0.7"/><path d="M80 8 l4.5 -0.8" stroke="#e8f6ff" stroke-width="1.1"/><path d="M79 10.8 h7" stroke="#d0ecff" stroke-width="0.8"/>
<defs><linearGradient id="cld" x1="0" y1="0" x2="0" y2="1"><stop offset="0" stop-color="#ffffff"/><stop offset="1" stop-color="#b8c4de"/></linearGradient></defs>
<path d="M75.2 18.5 a2.7 2.7 0 0 1 0.4 -5.3 a3.2 3.2 0 0 1 5.6 -1.2 a3 3 0 0 1 4.6 1.3 a2.6 2.6 0 0 1 0.6 5.2 Z" fill="url(#cld)" stroke="#4a68a8" stroke-width="0.9"/>
<defs><linearGradient id="swp" x1="0" y1="0" x2="0" y2="1"><stop offset="0" stop-color="#d8ead8"/><stop offset="1" stop-color="#58b058"/></linearGradient></defs>
<path d="M109 3.3 A7.7 7.7 0 0 1 109.6 18.7 L109.6 11Z" fill="url(#swp)" opacity="0.9"/>
<g fill="none"><circle cx="109" cy="11" r="7.4" stroke="#8eaee0" stroke-width="1" opacity="0.85"/><circle cx="109" cy="11" r="4.8" stroke="#8eaee0" stroke-width="1" opacity="0.8"/><circle cx="109" cy="11" r="2.6" stroke="#a8c0e8" stroke-width="0.8" opacity="0.8"/><circle cx="108.8" cy="10.6" r="1.8" fill="#2a5fd8" stroke="none"/><path d="M109.7 11.2 V18.8" stroke="#18a018" stroke-width="1.5"/></g>
<defs><linearGradient id="ylw" x1="0" y1="0" x2="1" y2="0"><stop offset="0" stop-color="#f4c820"/><stop offset="0.6" stop-color="#fdf08a"/><stop offset="1" stop-color="#f0c020"/></linearGradient></defs>
<polygon points="128.3,10.4 143.6,10 143,12 137.6,18.9 135.6,18.6" fill="url(#ylw)" stroke="#c89a18" stroke-width="0.7"/>
<ellipse cx="136" cy="8.4" rx="7.8" ry="2.7" fill="#4fa4dc" stroke="#2a80b8" stroke-width="0.8"/><path d="M132 8 c0.2 -3 1.4 -4.6 4 -4.6 c2.6 0 3.8 1.6 4 4.6 c-2 1 -6 1 -8 0Z" fill="#7cc4f0" stroke="#2a80b8" stroke-width="0.7"/><path d="M133.4 6.6 c0.4 -1.4 1.2 -2.2 2.4 -2.4" stroke="#c0e4fa" stroke-width="0.9" fill="none"/>
<circle cx="140.6" cy="14.6" r="4.2" fill="#d81c08"/><circle cx="140.6" cy="14.6" r="3.4" fill="#f03010"/><rect x="138.9" y="13" width="3.4" height="3.1" fill="#fff"/>
<g fill="#555" shape-rendering="crispEdges"><rect x="222" y="5" width="1" height="14"/><rect x="221" y="6" width="3" height="1"/><rect x="220" y="16" width="14" height="1"/><rect x="231" y="15" width="1" height="3"/><rect x="232" y="15" width="1" height="3" opacity="0.6"/></g>
<g fill="#18a018" shape-rendering="crispEdges"><rect x="228" y="6" width="1" height="9"/><rect x="229" y="7" width="2" height="1"/><rect x="226" y="13" width="2" height="1"/></g>
<g fill="#555" shape-rendering="crispEdges"><rect x="250" y="5" width="1" height="14"/><rect x="249" y="6" width="3" height="1"/><rect x="248" y="16" width="14" height="1"/><rect x="259" y="15" width="1" height="3"/><rect x="260" y="15" width="1" height="3" opacity="0.6"/></g>
<g shape-rendering="crispEdges"><rect x="256" y="3" width="1" height="12" fill="#18a018"/><rect x="254" y="5" width="5" height="8" fill="#18a018"/><rect x="255" y="6" width="3" height="6" fill="#7af08a"/></g>
<g fill="#555" shape-rendering="crispEdges"><rect x="278" y="5" width="1" height="14"/><rect x="277" y="6" width="3" height="1"/><rect x="276" y="16" width="14" height="1"/><rect x="287" y="15" width="1" height="3"/><rect x="288" y="15" width="1" height="3" opacity="0.6"/></g>
<path d="M277 13.6 C280 12 281.5 8 283.5 8.2 C285.5 8.6 286.5 11.5 289 12.2" fill="none" stroke="#2a9a2a" stroke-width="1.2"/>
<defs><linearGradient id="lens" x1="0" y1="0" x2="0" y2="1"><stop offset="0" stop-color="#eaf7fd"/><stop offset="1" stop-color="#c2e2f4"/></linearGradient><linearGradient id="clk" x1="0" y1="0" x2="1" y2="1"><stop offset="0" stop-color="#2a98ff"/><stop offset="1" stop-color="#003c9c"/></linearGradient><linearGradient id="gcell" x1="0" y1="0" x2="0" y2="1"><stop offset="0" stop-color="#2f8f14"/><stop offset="1" stop-color="#44b020"/></linearGradient><linearGradient id="bcell" x1="0" y1="0" x2="0" y2="1"><stop offset="0" stop-color="#1038b0"/><stop offset="1" stop-color="#3a70e8"/></linearGradient><linearGradient id="plus" x1="0" y1="0" x2="1" y2="1"><stop offset="0" stop-color="#8cf88c"/><stop offset="0.5" stop-color="#22dd22"/><stop offset="1" stop-color="#0fa40f"/></linearGradient></defs>
<path d="M317.6 12.6 L322.4 17.4" stroke="#b07a08" stroke-width="3.2" fill="none"/>
<path d="M317.6 12.6 L322.0 17.0" stroke="#f2dc48" stroke-width="1.5" fill="none"/>
<circle cx="314" cy="9" r="5.5" fill="url(#lens)" stroke="#3a7cc4" stroke-width="1.1"/>
<path d="M311 9 H317" stroke="#4a8cb4" stroke-width="1.6" fill="none"/>
<path d="M314 6 V12" stroke="#4a8cb4" stroke-width="1.6" fill="none"/>
<path d="M345.6 12.6 L350.4 17.4" stroke="#b07a08" stroke-width="3.2" fill="none"/>
<path d="M345.6 12.6 L350.0 17.0" stroke="#f2dc48" stroke-width="1.5" fill="none"/>
<circle cx="342" cy="9" r="5.5" fill="url(#lens)" stroke="#3a7cc4" stroke-width="1.1"/>
<path d="M339 9 H345" stroke="#4a8cb4" stroke-width="1.6" fill="none"/>
<rect x="364" y="3" width="8" height="8" rx="0.8" fill="url(#gcell)"/><rect x="365" y="5.6" width="6" height="4.4" fill="#fff"/><rect x="366.2" y="9" width="3.6" height="1" fill="#3aa018"/><rect x="365.8" y="6.8" width="4.4" height="1" fill="#3aa018" opacity="0.4"/><rect x="365" y="4" width="1" height="1" fill="#fff" opacity="0.8"/>
<rect x="372" y="3" width="8" height="8" rx="0.8" fill="url(#bcell)"/><rect x="373" y="5.6" width="6" height="4.4" fill="#fff"/><rect x="374.2" y="9" width="3.6" height="1" fill="#1848c8"/><rect x="373.8" y="6.8" width="4.4" height="1" fill="#1848c8" opacity="0.4"/><rect x="373" y="4" width="1" height="1" fill="#fff" opacity="0.8"/>
<rect x="364" y="11" width="8" height="8" rx="0.8" fill="url(#bcell)"/><rect x="365" y="13.6" width="6" height="4.4" fill="#fff"/><rect x="366.2" y="17" width="3.6" height="1" fill="#1848c8"/><rect x="365.8" y="14.8" width="4.4" height="1" fill="#1848c8" opacity="0.4"/><rect x="365" y="12" width="1" height="1" fill="#fff" opacity="0.8"/>
<rect x="372" y="11" width="8" height="8" rx="0.8" fill="url(#gcell)"/><rect x="373" y="13.6" width="6" height="4.4" fill="#fff"/><rect x="374.2" y="17" width="3.6" height="1" fill="#3aa018"/><rect x="373.8" y="14.8" width="4.4" height="1" fill="#3aa018" opacity="0.4"/><rect x="373" y="12" width="1" height="1" fill="#fff" opacity="0.8"/>
<g fill="#555" shape-rendering="crispEdges"><rect x="402" y="5" width="1" height="14"/><rect x="401" y="6" width="3" height="1"/><rect x="400" y="16" width="14" height="1"/><rect x="411" y="15" width="1" height="3"/><rect x="412" y="15" width="1" height="3" opacity="0.6"/></g>
<polygon points="407,7 411.3,10.5 407,14" fill="#7ae07a" stroke="#18a018" stroke-width="1"/>
<g fill="#555" shape-rendering="crispEdges"><rect x="430" y="5" width="1" height="14"/><rect x="429" y="6" width="3" height="1"/><rect x="428" y="16" width="14" height="1"/><rect x="439" y="15" width="1" height="3"/><rect x="440" y="15" width="1" height="3" opacity="0.6"/></g>
<rect x="436" y="5" width="1" height="10" fill="#1a6fc0" shape-rendering="crispEdges"/><path d="M441.5 10.5 H438" stroke="#e05a10" stroke-width="1.2"/><polygon points="437.2,10.5 440,8.3 440,12.7" fill="#e05a10"/>
<path d="M462 3.6 h7.2 l3.2 3.2 v9.6 h-10.4 a0.8 0.8 0 0 1 -0.8 -0.8 v-11.2 a0.8 0.8 0 0 1 0.8 -0.8Z" fill="#fbfbfb" stroke="#8c8c8c" stroke-width="0.9"/><path d="M469.2 3.8 v3 h3" fill="#e4e4e4" stroke="#8c8c8c" stroke-width="0.7"/><path d="M466.6 6.4 c-2.4 -0.4 -2.2 2 -2.2 3.4 v4.4 M463.4 9.6 h2.6" stroke="#555" fill="none" stroke-width="0.8"/>
<path d="M469.7 9.5 h3.2 v3.9 h3.9 v3.2 h-3.9 v3.9 h-3.2 v-3.9 h-3.9 v-3.2 h3.9Z" fill="url(#plus)" stroke="#0b8a0b" stroke-width="0.9"/>
<polygon points="482.3,10 488.3,10 485.3,13.3" fill="#111"/>
<circle cx="507.1" cy="11" r="6.8" fill="#eef1f5" stroke="url(#clk)" stroke-width="2.7"/><circle cx="507.1" cy="11" r="5.3" fill="none" stroke="#c8d4e0" stroke-width="0.8" stroke-dasharray="0.7 2.08"/><path d="M506.8 7.4 V11.3 L509.8 11" stroke="#181818" stroke-width="1.2" fill="none"/>
<polygon points="521.4,10 527.4,10 524.4,13.3" fill="#111"/>
<rect x="538.5" y="4.5" width="15" height="13" rx="0.8" fill="#fff" stroke="#3a78c8" stroke-width="1"/><rect x="539" y="5" width="14" height="2.2" fill="#4a8ad8"/><rect x="540" y="5.4" width="6" height="0.8" fill="#cfe4ff"/><rect x="539" y="12" width="14" height="1" fill="#3a78c8"/>
<path d="M540.5 10.6 h2 l1.6 -1.2 h1.4 l1.6 -1 l1.6 1 h1.4 l1.4 -1" stroke="#9c2814" stroke-width="1.1" fill="none"/><path d="M541 15.6 h1.8 l1.6 -1 l1.6 0.8 l2 -1.8 l1.6 0.6 l1.4 1.6" stroke="#1a8a2e" stroke-width="1.1" fill="none"/>
<polygon points="560.4,10 566.4,10 563.4,13.3" fill="#111"/>
<polygon points="590,4 590,15 592.8,12.6 595,17.8 597,17 594.8,12 598.2,11.6" fill="#4a4a4a"/>
<g fill="#4a4a4a" shape-rendering="crispEdges"><rect x="615" y="11" width="6" height="1"/><rect x="624" y="11" width="6" height="1"/><rect x="622" y="4" width="1" height="6"/><rect x="622" y="13" width="1" height="6"/></g>
<g fill="#4a4a4a" shape-rendering="crispEdges"><rect x="656" y="5" width="1" height="13"/><rect x="679" y="11" width="12" height="1"/></g>
<path d="M707 17.8 L719 6" stroke="#4a4a4a" stroke-width="1.1" fill="none"/>
<g stroke="#4a4a4a" stroke-width="1" fill="none"><path d="M733 12.5 L741 5"/><path d="M734.5 17 L747 5.5"/><path d="M738 17.5 L747 9.5"/><path d="M735.6 10.6 l-0.4 6.8 M738.6 8.6 l-0.4 6 M741.6 7 l-0.4 6 M744.4 3.2 l0.6 7" stroke-width="1.4"/></g>
<text x="743.6" y="19.6" style="font-size:7px;font-weight:bold;fill:#333">E</text>
<g stroke="#4a4a4a" stroke-width="1" stroke-dasharray="1 1" fill="none" shape-rendering="crispEdges"><path d="M762 4.5 H776"/><path d="M762 7.5 H776"/><path d="M762 11.5 H776"/><path d="M762 15.5 H771"/></g>
<text x="771.6" y="19.6" style="font-size:7px;font-weight:bold;fill:#333">F</text>
<text x="792.6" y="15.8" style="font-size:12.6px;fill:#505050;stroke:#505050;stroke-width:0.45px;text-rendering:geometricPrecision">A</text>
<rect x="819.5" y="5.5" width="11" height="12" fill="none" stroke="#4a4a4a" stroke-width="1" stroke-dasharray="1 1" shape-rendering="crispEdges"/><path d="M821.5 8.8 H829 M825.2 8.8 V16" stroke="#4a4a4a" stroke-width="1.4" fill="none"/>
<polygon points="845.8,8.7 849.4,4.8 853,8.7 851.6,8.7 851.6,9.9 847.2,9.9 847.2,8.7" fill="#4a4a4a"/><polygon points="853.2,14.4 854.6,14.4 854.6,13.2 859,13.2 859,14.4 860.4,14.4 856.8,18.2" fill="#4a4a4a"/><path d="M848.2 12.2 L850.5 14.4 L854.8 9.3" stroke="#4a4a4a" stroke-width="1.2" fill="none"/>
<polygon points="866.5,10 872.5,10 869.5,13.3" fill="#111"/>
<path d="M1606.5 11.5 L1602 16" stroke="#2a62d0" stroke-width="2.4" stroke-linecap="round" fill="none"/><circle cx="1609.6" cy="8.3" r="4" fill="#fafcff" stroke="#2a6ad8" stroke-width="1.4"/>
<path d="M1631.5 8.5 c-3.5 0 -5.5 2 -5.5 4.5 c0 2.2 1.6 3.8 3.6 4.3 l-0.6 2.4 l2.6 -2.2 c3.4 0 5.4 -2 5.4 -4.5 c0 -2.5 -2 -4.5 -5.5 -4.5Z" fill="#e4e6f0" stroke="#a8a8a8" stroke-width="0.9"/>
<circle cx="1640.4" cy="8.3" r="8.2" fill="url(#redg)"/>
<text x="1640.3" y="12.8" text-anchor="middle" style="font-size:12.5px;font-weight:bold;fill:#fff;font-family:'Liberation Serif',serif">1</text>
</g>
</svg></body></html>
